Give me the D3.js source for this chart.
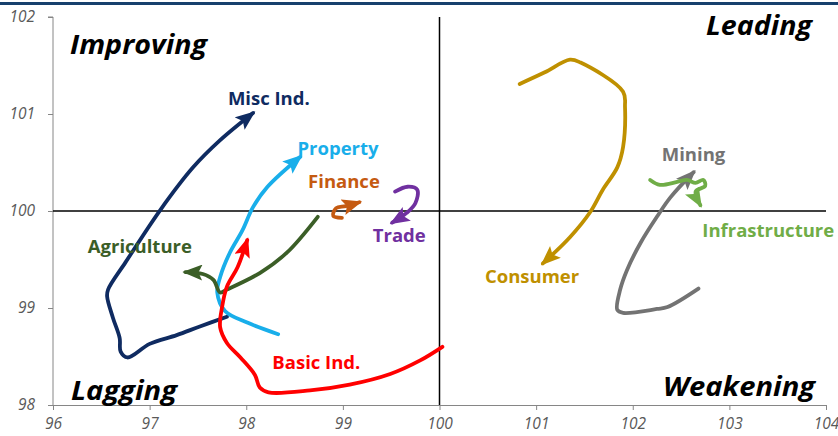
<!DOCTYPE html>
<html>
<head>
<meta charset="utf-8">
<script src="https://cdn.jsdelivr.net/npm/d3@7"></script>
<style>
  body { margin: 0; background: #fff; }
  svg { display: block; }
  .tick text { font-family: "Open Sans", sans-serif; font-style: italic; font-size: 15.5px; fill: #595959; }
  .quad { font-family: "Open Sans", sans-serif; font-style: italic; font-weight: bold; font-size: 26px; fill: #000; }
  .lbl { font-family: "Open Sans", sans-serif; font-weight: bold; font-size: 18.5px; }
</style>
</head>
<body>
<div id="chart"></div>
<script>
var xTicks = [96, 97, 98, 99, 100, 101, 102, 103, 104];
var yTicks = [98, 99, 100, 101, 102];

// relative strength (x) vs momentum (y), oldest point first
var miscInd = [[97.80, 98.91], [97.52, 98.81], [97.28, 98.72], [97.00, 98.63], [96.77, 98.49], [96.70, 98.55],
  [96.69, 98.69], [96.62, 98.90], [96.56, 99.12], [96.57, 99.19], [96.75, 99.47], [97.11, 100.01],
  [97.45, 100.45], [97.73, 100.73], [98.07, 101.01]];
var property = [[98.33, 98.73], [98.01, 98.85], [97.78, 98.97], [97.70, 99.16], [97.73, 99.32], [97.83, 99.57],
  [97.96, 99.80], [98.07, 100.04], [98.22, 100.25], [98.56, 100.56]];
var basicInd = [[100.03, 98.60], [99.80, 98.46], [99.49, 98.32], [99.07, 98.21], [98.66, 98.15], [98.23, 98.13],
  [98.14, 98.18], [98.09, 98.31], [97.94, 98.49], [97.80, 98.64], [97.73, 98.80], [97.75, 99.01],
  [97.80, 99.22], [97.91, 99.42], [98.01, 99.70]];
var agriculture = [[98.74, 99.94], [98.42, 99.57], [98.14, 99.36], [97.80, 99.19], [97.73, 99.16],
  [97.66, 99.29], [97.55, 99.35], [97.37, 99.37]];
var finance = [[98.99, 99.93], [98.90, 99.95], [98.93, 100.03], [99.03, 100.05], [99.17, 100.09]];
var trade = [[99.54, 100.20], [99.67, 100.25], [99.77, 100.22], [99.75, 100.08], [99.66, 99.98], [99.51, 99.88]];
var consumer = [[100.83, 101.31], [101.09, 101.43], [101.35, 101.56], [101.46, 101.53], [101.90, 101.23],
  [101.92, 101.07], [101.90, 100.66], [101.84, 100.45], [101.69, 100.22], [101.56, 99.99],
  [101.35, 99.73], [101.07, 99.46]];
var mining = [[102.68, 99.20], [102.36, 99.01], [102.25, 98.99], [101.90, 98.95], [101.84, 98.98],
  [101.87, 99.19], [101.94, 99.39], [102.08, 99.67], [102.25, 99.94], [102.39, 100.14], [102.63, 100.40]];
var infrastructure = [[102.18, 100.32], [102.28, 100.27], [102.46, 100.30], [102.56, 100.32], [102.65, 100.29],
  [102.73, 100.32], [102.75, 100.26], [102.65, 100.20], [102.70, 100.06]];

var series = [
  { name: "Misc Ind.", pts: miscInd, color: "#0f2b61", lx: 97.81, ly: 101.09 },
  { name: "Property", pts: property, color: "#19aeea", lx: 98.53, ly: 100.58 },
  { name: "Finance", pts: finance, color: "#c55a11", lx: 98.64, ly: 100.24 },
  { name: "Trade", pts: trade, color: "#7030a0", lx: 99.31, ly: 99.68 },
  { name: "Agriculture", pts: agriculture, color: "#3b5e27", lx: 96.36, ly: 99.57 },
  { name: "Basic Ind.", pts: basicInd, color: "#ff0000", lx: 98.27, ly: 98.37 },
  { name: "Consumer", pts: consumer, color: "#bf9000", lx: 100.47, ly: 99.26 },
  { name: "Mining", pts: mining, color: "#737373", lx: 102.30, ly: 100.52 },
  { name: "Infrastructure", pts: infrastructure, color: "#70ad47", lx: 102.72, ly: 99.73 }
];

var quadrants = [
  { name: "Improving", x: 70, y: 54, len: 137, anchor: "start" },
  { name: "Leading", x: 812, y: 35, len: 106, anchor: "end" },
  { name: "Lagging", x: 71, y: 400, len: 106, anchor: "start" },
  { name: "Weakening", x: 815, y: 396, len: 152, anchor: "end" }
];

var W = 838, H = 436;
var margin = { top: 17, right: 12, bottom: 31, left: 53 };

var x = d3.scaleLinear().domain([96, 104]).range([margin.left, W - margin.right]);
var y = d3.scaleLinear().domain([98, 102]).range([H - margin.bottom, margin.top]);

var svg = d3.select("#chart").append("svg")
  .attr("width", W)
  .attr("height", H);

// top banner rule
svg.append("rect").attr("x", 0).attr("y", 2).attr("width", W).attr("height", 3).attr("fill", "#17406d");

// axes
var xAxis = d3.axisBottom(x).tickValues(xTicks).tickFormat(d3.format("d")).tickSize(5).tickPadding(8);
var yAxis = d3.axisLeft(y).tickValues(yTicks).tickFormat(d3.format("d")).tickSize(5).tickPadding(13);

svg.append("g").attr("transform", "translate(0," + y(98) + ")").call(xAxis)
  .call(function (g) { g.selectAll("line, path").attr("stroke", "#868686"); });
svg.append("g").attr("transform", "translate(" + x(96) + ",0)").call(yAxis)
  .call(function (g) {
    g.selectAll("line, path").attr("stroke", "#868686");
    g.select(".domain").attr("d", "M-5," + y(102) + "H0V" + y(98));
  });

// quadrant dividers
svg.append("line").attr("x1", x(96)).attr("x2", x(104)).attr("y1", y(100)).attr("y2", y(100))
  .attr("stroke", "#000").attr("stroke-width", 1.5);
svg.append("line").attr("x1", x(100)).attr("x2", x(100)).attr("y1", y(102)).attr("y2", y(98))
  .attr("stroke", "#000").attr("stroke-width", 1.5);

// quadrant names
svg.selectAll(".quad")
  .data(quadrants)
  .enter().append("text")
  .attr("class", "quad")
  .attr("x", function (d) { return d.x; })
  .attr("y", function (d) { return d.y; })
  .attr("text-anchor", function (d) { return d.anchor; })
  .attr("textLength", function (d) { return d.len; })
  .attr("lengthAdjust", "spacingAndGlyphs")
  .text(function (d) { return d.name; });

// arrow heads
var defs = svg.append("defs");
series.forEach(function (s, i) {
  defs.append("marker")
    .attr("id", "arr" + i)
    .attr("markerUnits", "userSpaceOnUse")
    .attr("viewBox", "0 -8 20 16")
    .attr("refX", 17).attr("refY", 0)
    .attr("markerWidth", 20).attr("markerHeight", 16)
    .attr("orient", "auto")
    .append("path")
    .attr("d", "M0,-8L20,0L0,8L4,0Z")
    .attr("fill", s.color);
});

var line = d3.line()
  .x(function (d) { return x(d[0]); })
  .y(function (d) { return y(d[1]); })
  .curve(d3.curveCatmullRom.alpha(0.5));

svg.selectAll(".trail")
  .data(series)
  .enter().append("path")
  .attr("class", "trail")
  .attr("d", function (d) { return line(d.pts); })
  .attr("fill", "none")
  .attr("stroke", function (d) { return d.color; })
  .attr("stroke-width", 3.8)
  .attr("stroke-linejoin", "round")
  .attr("stroke-linecap", "round")
  .attr("marker-end", function (d, i) { return "url(#arr" + i + ")"; });

svg.selectAll(".lbl")
  .data(series)
  .enter().append("text")
  .attr("class", "lbl")
  .attr("x", function (d) { return x(d.lx); })
  .attr("y", function (d) { return y(d.ly); })
  .attr("fill", function (d) { return d.color; })
  .text(function (d) { return d.name; });
</script>
</body>
</html>
